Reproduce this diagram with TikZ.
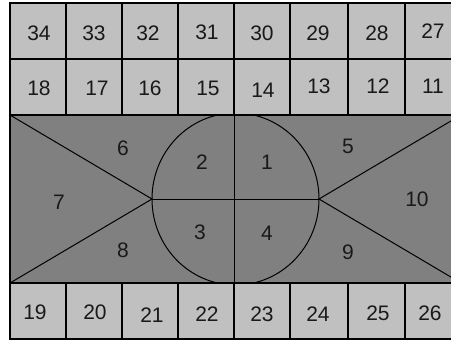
\documentclass[tikz,border=0pt]{standalone}
\usepackage{fontspec}
\setmainfont{Liberation Sans}
\definecolor{cellgray}{HTML}{C0C0C0}
\definecolor{bandgray}{HTML}{808080}
\tikzset{
  cell/.style={draw=black, line width=1.2pt, fill=cellgray},
  lbl/.style={font=\fontsize{21}{21}\selectfont, inner sep=0pt, text=black!90},
  edge/.style={draw=black, line width=1pt}
}
\begin{document}
\begin{tikzpicture}[x=1pt,y=-1pt]
\useasboundingbox (0,0) rectangle (451,341);
\clip (0,0) rectangle (451,341);
\fill[white] (0,0) rectangle (451,341);
% top rows
\foreach \xa/\xb in {10/66,66/122,122/178,178/234,234/290,290/348,348/405,405/461}{
  \path[cell] (\xa,3) rectangle (\xb,59);
  \path[cell] (\xa,59) rectangle (\xb,115);
  \path[cell] (\xa,283) rectangle (\xb,339);
}
% band
\path[cell, fill=bandgray] (10,115) rectangle (461,283);
\coordinate (TL) at (10,115);
\coordinate (BL) at (10,283);
\coordinate (TR) at (461,115);
\coordinate (BR) at (461,283);
\coordinate (LA) at (152,199);
\coordinate (RA) at (319,199);
\coordinate (TM) at (234,115);
\coordinate (BM) at (234,283);
\begin{scope}
\clip (10,115) rectangle (461,283);
\draw[edge] (235.5,199) ellipse [x radius=83.5, y radius=86];
\end{scope}
\draw[edge] (TL) -- (LA) -- (BL);
\draw[edge] (TR) -- (RA) -- (BR);
\draw[edge] (LA) -- (RA);
\draw[edge] (TM) -- (BM);
\path[cell, fill=none] (10,115) rectangle (461,283);
% labels
\node[lbl] (n34) at (39,33) {34};
\node[lbl] (n33) at (94,33) {33};
\node[lbl] (n32) at (148,33) {32};
\node[lbl] (n31) at (207,32) {31};
\node[lbl] (n30) at (262,33) {30};
\node[lbl] (n29) at (318,33) {29};
\node[lbl] (n28) at (377,33) {28};
\node[lbl] (n27) at (433,31) {27};
\node[lbl] (n18) at (39,88) {18};
\node[lbl] (n17) at (97,88) {17};
\node[lbl] (n16) at (150,88) {16};
\node[lbl] (n15) at (208,88) {15};
\node[lbl] (n14) at (263,90) {14};
\node[lbl] (n13) at (319,86) {13};
\node[lbl] (n12) at (378,86) {12};
\node[lbl] (n11) at (433,86) {11};
\node[lbl] (n6) at (123,148) {6};
\node[lbl] (n2) at (202,162) {2};
\node[lbl] (n1) at (267,162) {1};
\node[lbl] (n5) at (348,146) {5};
\node[lbl] (n7) at (59,202) {7};
\node[lbl] (n10) at (417,199) {10};
\node[lbl] (n3) at (200,232) {3};
\node[lbl] (n4) at (267,233) {4};
\node[lbl] (n8) at (123,250) {8};
\node[lbl] (n9) at (348,252) {9};
\node[lbl] (n19) at (35,312) {19};
\node[lbl] (n20) at (95,312) {20};
\node[lbl] (n21) at (152,315) {21};
\node[lbl] (n22) at (207,314) {22};
\node[lbl] (n23) at (262,314) {23};
\node[lbl] (n24) at (318,314) {24};
\node[lbl] (n25) at (378,313) {25};
\node[lbl] (n26) at (430,313) {26};
\end{tikzpicture}
\end{document}
